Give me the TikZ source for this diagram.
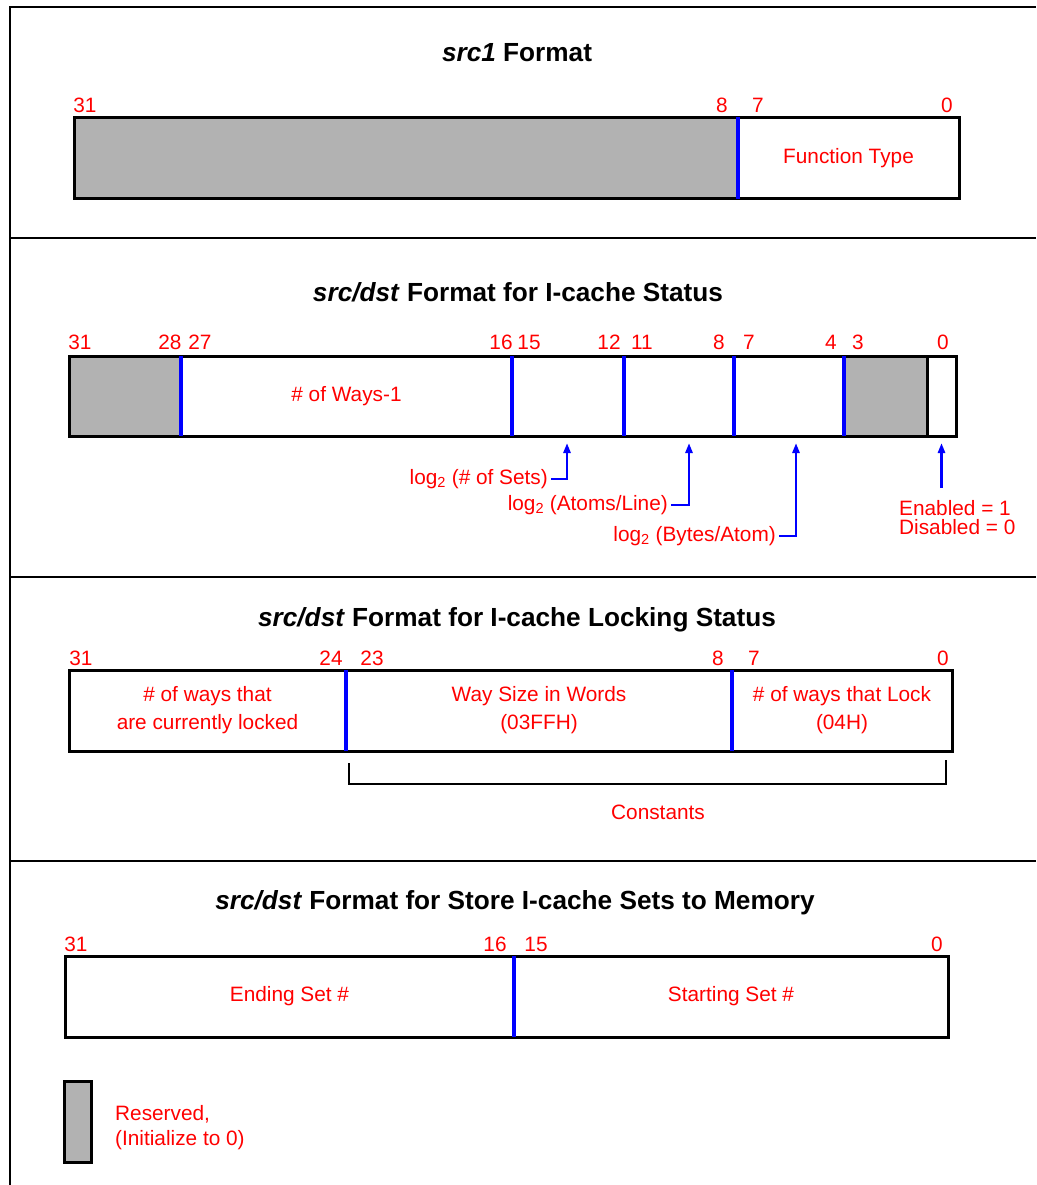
\documentclass[tikz,border=0pt]{standalone}
\usepackage{fontspec}
\setmainfont{Liberation Sans}
\usetikzlibrary{arrows.meta,calc}

\definecolor{resv}{RGB}{178,178,178}

\begin{document}
\begin{tikzpicture}[x=1pt, y=-1pt,
  outerframe/.style={line width=2pt, black},
  ttl/.style={anchor=base, font=\fontsize{26.2}{31}\selectfont\bfseries},
  bit/.style={anchor=base, inner sep=0pt, text=red, font=\fontsize{20.8}{25}\selectfont},
  fld/.style={anchor=north west, inner sep=0pt, outer sep=0pt, align=center, text=red,
    font=\fontsize{20.8}{28}\selectfont, minimum height=#1},
  fld/.default=81,
  regbox/.style={line width=3pt, black},
  divider/.style={line width=3.5pt, blue},
  note/.style={inner sep=3pt, text=red, font=\fontsize{20.8}{25}\selectfont},
  ptr/.style={-{Triangle[length=10pt,width=7pt]}, line width=2.5pt, blue, shorten >=7pt},
  brk/.style={line width=2pt, black}]
  \useasboundingbox (0,0) rectangle (1036,1185);

  % frame and section rules
  \draw[outerframe] (10,1185) -- (10,7) -- (1036,7);
  \foreach \y in {238,577,861} \draw[outerframe] (10,\y) -- (1036,\y);

  % src1
  \node[ttl] (t1) at (517,62) {\textit{src1} Format};
  \node[fld, fill=resv, minimum width=664] (s1rsv) at (74,117.5) {};
  \node[fld, minimum width=221] (s1fn) at (738,117.5) {Function Type};
  \draw[regbox] (s1rsv.north west) rectangle (s1fn.south east);
  \draw[divider] (s1rsv.north east) -- (s1rsv.south east);
  \foreach \x/\n in {85/31,722/8,758/7,947/0} \node[bit] (s1b\n) at (\x,113) {\n};

  % I-cache status
  \node[ttl] (t2) at (518,301) {\textit{src/dst} Format for I-cache Status};
  \node[fld=80, fill=resv, minimum width=112] (s2rsvh) at (69,356) {};
  \node[fld=80, minimum width=331] (s2ways) at (181,356) {\# of Ways-1};
  \node[fld=80, minimum width=112] (s2sets) at (512,356) {};
  \node[fld=80, minimum width=110] (s2atoms) at (624,356) {};
  \node[fld=80, minimum width=110] (s2bytes) at (734,356) {};
  \node[fld=80, fill=resv, minimum width=83] (s2rsvl) at (844,356) {};
  \node[fld=80, minimum width=29] (s2en) at (927,356) {};
  \draw[regbox] (s2rsvh.north west) rectangle (s2en.south east);
  \foreach \f in {s2rsvh,s2ways,s2sets,s2atoms,s2bytes}
    \draw[divider, line width=4pt] (\f.north east) -- (\f.south east);
  \draw[regbox] (s2rsvl.north east) -- (s2rsvl.south east);
  \foreach \x/\n in {80/31,170/28,200/27,501/16,529/15,609/12,642/11,719/8,749/7,831/4,858/3,943/0}
    \node[bit] (s2b\n) at (\x,349) {\n};
  \node[note, anchor=east] (lsets) at (551,479) {log\textsubscript{2} (\# of Sets)};
  \node[note, anchor=east] (latoms) at (671,505) {log\textsubscript{2} (Atoms/Line)};
  \node[note, anchor=east] (lbytes) at (779,536) {log\textsubscript{2} (Bytes/Atom)};
  \node[note, anchor=north west, align=left, font=\fontsize{20.8}{19}\selectfont] (lenable)
    at (896,497) {Enabled = 1\\Disabled = 0};
  \draw[ptr] (lsets.east) -| ([xshift=-1pt]s2sets.south);
  \draw[ptr] (latoms.east) -| ([xshift=10pt]s2atoms.south);
  \draw[ptr] (lbytes.east) -| ([xshift=7pt]s2bytes.south);
  \draw[ptr, shorten <=9pt] (lenable.north -| s2en.south) -- (s2en.south);

  % I-cache locking status
  \node[ttl] (t3) at (517,626) {\textit{src/dst} Format for I-cache Locking Status};
  \node[fld, minimum width=277] (s3lkd) at (69,670) {\# of ways that\\are currently locked};
  \node[fld, minimum width=386] (s3wsz) at (346,670) {Way Size in Words\\(03FFH)};
  \node[fld, minimum width=220] (s3wlk) at (732,670) {\# of ways that Lock\\(04H)};
  \draw[regbox] (s3lkd.north west) rectangle (s3wlk.south east);
  \draw[divider] (s3lkd.north east) -- (s3lkd.south east);
  \draw[divider] (s3wsz.north east) -- (s3wsz.south east);
  \foreach \x/\n in {81/31,331/24,372/23,718/8,754/7,943/0} \node[bit] (s3b\n) at (\x,665) {\n};
  \draw[brk] ([shift={(3,12)}]s3wsz.south west) |- ([shift={(-6,33)}]s3wlk.south east)
    -- ([shift={(-6,9)}]s3wlk.south east);
  \node[note] (const) at (658,812) {Constants};

  % store sets to memory
  \node[ttl] (t4) at (515,909) {\textit{src/dst} Format for Store I-cache Sets to Memory};
  \node[fld, minimum width=449] (s4end) at (65,956) {Ending Set \#};
  \node[fld, minimum width=434] (s4start) at (514,956) {Starting Set \#};
  \draw[regbox] (s4end.north west) rectangle (s4start.south east);
  \draw[divider] (s4end.north east) -- (s4end.south east);
  \foreach \x/\n in {76/31,495/16,536/15,937/0} \node[bit] (s4b\n) at (\x,951) {\n};

  % key
  \node[fld, fill=resv, draw, line width=3pt, minimum width=27] (key) at (64,1081) {};
  \node[note, anchor=north west, align=left] (keytxt) at (112,1102) {Reserved,\\(Initialize to 0)};
\end{tikzpicture}
\end{document}
